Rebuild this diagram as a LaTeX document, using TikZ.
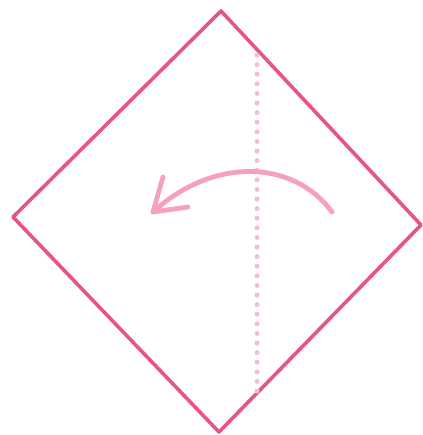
\documentclass[tikz,border=0pt]{standalone}
\usepackage{xcolor}
\usepackage{tikz}
\definecolor{fpink}{RGB}{232, 84, 135}
\definecolor{fpinklight}{RGB}{245, 160, 190}
\definecolor{fpinkdot}{RGB}{248, 188, 208}

\begin{document}
\begin{tikzpicture}[x=0.5pt, y=-0.5pt,
        paper/.style={draw=fpink, line width=1.8pt, line join=round},
        foldline/.style={draw=fpinkdot, line width=2.5pt, line cap=round,
                         dash pattern=on 0pt off 4.8pt},
        turn/.style={draw=fpinklight, line width=2.4pt, line cap=round, line join=round},
      ]
        \useasboundingbox (0,0) rectangle (423,435);
        % corners of the square
        \coordinate (top)    at (221, 11);
        \coordinate (left)   at (13, 217);
        \coordinate (bottom) at (219, 432);
        \coordinate (right)  at (421, 225);
        \draw[paper] (top) -- (right) -- (bottom) -- (left) -- cycle;

        % valley fold
        \coordinate (foldtop) at (257, 55);
        \coordinate (foldbot) at (257, 393);
        \draw[foldline] (foldtop) -- (foldbot);

        % turn over to the left
        \coordinate (from) at (332, 212);
        \coordinate (tip)  at (153, 212);
        \draw[turn] (from) .. controls (292, 158) and (212, 158) .. (tip);
        \draw[turn] (163, 177) -- (tip) -- (188, 207);
      \end{tikzpicture}
\end{document}
